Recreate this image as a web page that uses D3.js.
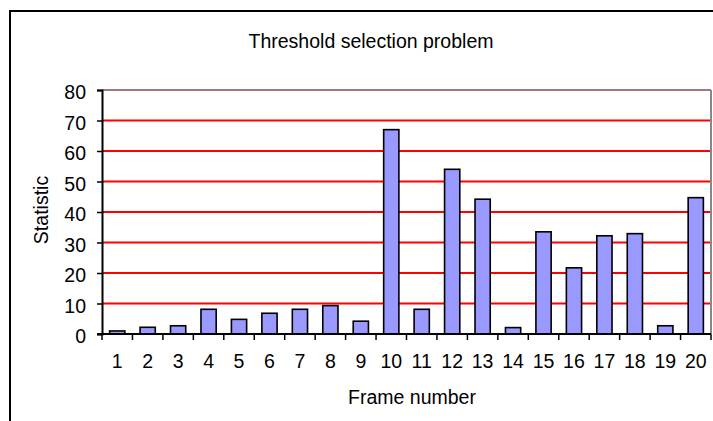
<!DOCTYPE html>
<html>
<head>
<meta charset="utf-8">
<script src="https://cdn.jsdelivr.net/npm/d3@7"></script>
<style>
  body { margin: 0; background: #fff; }
  text { font-family: "Liberation Sans", Arial, sans-serif; fill: #000; }
</style>
</head>
<body>
<div id="chart_area"></div>
<script>
// values
var frames = ["1","2","3","4","5","6","7","8","9","10","11","12","13","14","15","16","17","18","19","20"]
var stat = [1, 2.2, 2.7, 8.1, 4.8, 6.8, 8.1, 9.3, 4.2, 67, 8.1, 54, 44.2, 2.1, 33.5, 21.7, 32.2, 32.9, 2.7, 44.7]
var yTicks = [0, 10, 20, 30, 40, 50, 60, 70, 80]

const W = 713, H = 421
const margin = {top: 90, right: 2, bottom: 87, left: 102}
const width = 711 - margin.left
const height = 334 - margin.top
const fs = "19.5px"

var svg = d3.select("#chart_area")
  .append("svg")
  .attr("width", W)
  .attr("height", H)

// outer chart frame (runs off the right and bottom edges)
svg.append("rect")
  .attr("x", 10).attr("y", 11)
  .attr("width", 800).attr("height", 500)
  .attr("fill", "none")
  .attr("stroke", "#000")
  .attr("stroke-width", 2)

svg.append("text")
  .attr("x", 371).attr("y", 48)
  .attr("text-anchor", "middle")
  .style("font-size", fs)
  .text("Threshold selection problem")

var g = svg.append("g")
  .attr("transform", "translate(" + margin.left + "," + margin.top + ")")

var x = d3.scaleBand()
  .domain(frames)
  .range([0, width])
  .paddingInner(0.5)
  .paddingOuter(0.25)

var y = d3.scaleLinear()
  .domain([0, 80])
  .range([height, 0])

// red gridlines
g.selectAll(".grid")
  .data(yTicks.filter(function(d){ return d > 0 && d < 80 }))
  .enter()
  .append("line")
    .attr("x1", 0).attr("x2", width)
    .attr("y1", function(d){ return y(d) })
    .attr("y2", function(d){ return y(d) })
    .attr("stroke", "#ff0000")
    .attr("stroke-width", 2)

// plot area border, top and right
g.append("line")
  .attr("x1", 0).attr("x2", width)
  .attr("y1", y(80)).attr("y2", y(80))
  .attr("stroke", "#a07878").attr("stroke-width", 2)
g.append("line")
  .attr("x1", width).attr("x2", width)
  .attr("y1", y(80)).attr("y2", height)
  .attr("stroke", "#888").attr("stroke-width", 2)

// bars
g.selectAll(".bar")
  .data(stat)
  .enter()
  .append("rect")
    .attr("x", function(d, i){ return x(frames[i]) })
    .attr("y", function(d){ return y(d) })
    .attr("width", x.bandwidth())
    .attr("height", function(d){ return height - y(d) })
    .attr("fill", "#9999ff")
    .attr("stroke", "#000")
    .attr("stroke-width", 1.6)

// y axis
var yAxis = g.append("g")
  .call(d3.axisLeft(y).tickValues(yTicks).tickSize(5).tickPadding(11))
yAxis.select(".domain").attr("stroke-width", 2)
yAxis.selectAll(".tick line").attr("stroke-width", 1.5)
yAxis.selectAll("text")
  .style("font-size", fs)
  .style("font-family", "Liberation Sans, Arial, sans-serif")
  .attr("dy", "0.45em")

// x axis: ticks at the band edges
var step = x.step()
var edges = d3.range(frames.length + 1)
g.append("line")
  .attr("x1", -5).attr("x2", width)
  .attr("y1", height).attr("y2", height)
  .attr("stroke", "#000").attr("stroke-width", 2)
g.selectAll(".xtick")
  .data(edges)
  .enter()
  .append("line")
    .attr("x1", function(d){ return d * step })
    .attr("x2", function(d){ return d * step })
    .attr("y1", height).attr("y2", height + 6)
    .attr("stroke", "#000").attr("stroke-width", 1.5)
g.selectAll(".xlab")
  .data(frames)
  .enter()
  .append("text")
    .attr("x", function(d){ return x(d) + x.bandwidth() / 2 })
    .attr("y", height + 34)
    .attr("text-anchor", "middle")
    .style("font-size", fs)
    .text(function(d){ return d })

svg.append("text")
  .attr("x", 412).attr("y", 404)
  .attr("text-anchor", "middle")
  .style("font-size", fs)
  .text("Frame number")

svg.append("text")
  .attr("transform", "translate(48,210) rotate(-90)")
  .attr("text-anchor", "middle")
  .style("font-size", fs)
  .text("Statistic")
</script>
</body>
</html>
